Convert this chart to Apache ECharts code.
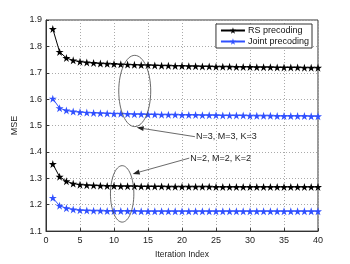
<!DOCTYPE html>
<html><head><meta charset="utf-8">
<script src="https://cdn.jsdelivr.net/npm/echarts@6/dist/echarts.min.js"></script>
<style>html,body{margin:0;padding:0;background:#fff}#c{width:350px;height:264px}</style>
</head><body><div id="c"></div>
<script>
const iterations = Array.from({length:40},(_,i)=>i+1);
const rsN3 = [1.866,1.779,1.756,1.747,1.742,1.739,1.737,1.735,1.734,1.733,1.732,1.731,1.730,1.729,1.729,1.728,1.727,1.727,1.726,1.726,1.725,1.725,1.724,1.724,1.723,1.723,1.723,1.722,1.722,1.722,1.721,1.721,1.721,1.720,1.720,1.720,1.720,1.719,1.719,1.719];
const jointN3 = [1.602,1.566,1.557,1.553,1.551,1.549,1.548,1.547,1.546,1.545,1.545,1.544,1.543,1.543,1.542,1.542,1.541,1.541,1.541,1.540,1.540,1.540,1.539,1.539,1.539,1.538,1.538,1.538,1.538,1.537,1.537,1.537,1.537,1.536,1.536,1.536,1.536,1.536,1.535,1.535];
const rsN2 = [1.354,1.306,1.289,1.280,1.276,1.274,1.273,1.272,1.271,1.271,1.270,1.270,1.270,1.269,1.269,1.269,1.269,1.268,1.268,1.268,1.268,1.268,1.268,1.268,1.267,1.267,1.267,1.267,1.267,1.267,1.267,1.267,1.267,1.267,1.267,1.267,1.267,1.267,1.267,1.267];
const jointN2 = [1.226,1.196,1.187,1.182,1.179,1.178,1.177,1.177,1.176,1.176,1.176,1.176,1.176,1.175,1.175,1.175,1.175,1.175,1.175,1.175,1.175,1.175,1.175,1.175,1.175,1.175,1.175,1.175,1.175,1.175,1.175,1.175,1.175,1.175,1.175,1.175,1.175,1.175,1.175,1.175];
const legendNames = ['RS precoding','Joint precoding'];
const annotN3 = 'N=3, M=3, K=3';
const annotN2 = 'N=2, M=2, K=2';

const STAR = 'path://M50,0 L61.8,36.2 L100,36.2 L69.1,58.6 L80.9,95.1 L50,72.4 L19.1,95.1 L30.9,58.6 L0,36.2 L38.2,36.2 Z';
const FONT = 'Liberation Sans';
const BLUE = '#3050ff';
const chart = echarts.init(document.getElementById('c'), null, {renderer:'canvas'});
function mk(name, data, color){
  return {name, type:'line', data: data.map((v,i)=>[iterations[i],v]), symbol: STAR, symbolSize: 8,
    showAllSymbol:true, itemStyle:{color}, lineStyle:{color, width:1}, animation:false};
}
chart.setOption({
  animation:false,
  grid:{left:46, right:32, top:20, bottom:30, show:true, borderColor:'#333', borderWidth:1},
  legend:{data:legendNames, right:38, top:24, orient:'vertical', itemWidth:24, itemHeight:8, itemGap:2,
    borderColor:'#333', borderWidth:1, borderRadius:0, padding:[2,3,2,4], backgroundColor:'#fff',
    textStyle:{fontFamily:FONT, fontSize:9, color:'#111', padding:[0,0,0,-2]}},
  xAxis:{type:'value', min:0, max:40, interval:5, name:'Iteration Index', nameLocation:'middle', nameGap:17,
    nameTextStyle:{fontFamily:FONT, fontSize:8.5, color:'#222'},
    axisLine:{lineStyle:{color:'#333'}}, axisTick:{inside:true, length:3, lineStyle:{color:'#333'}},
    axisLabel:{fontFamily:FONT, fontSize:9, color:'#222', margin:5},
    splitLine:{show:true, lineStyle:{type:[1,2], color:'#aaa'}}},
  yAxis:{type:'value', min:1.1, max:1.9, interval:0.1, name:'MSE', nameLocation:'middle', nameGap:24, nameRotate:90,
    nameTextStyle:{fontFamily:FONT, fontSize:9, color:'#222'},
    axisLine:{show:true, lineStyle:{color:'#333'}}, axisTick:{show:true, inside:true, length:3, lineStyle:{color:'#333'}},
    axisLabel:{fontFamily:FONT, fontSize:9, color:'#222', margin:4, formatter:v=>v.toFixed(1)},
    splitLine:{show:true, lineStyle:{type:[1,2], color:'#aaa'}}},
  series:[mk(legendNames[0], rsN3, '#000'), mk(legendNames[1], jointN3, BLUE),
          mk(legendNames[0], rsN2, '#000'), mk(legendNames[1], jointN2, BLUE)]
});
function P(x,y){return chart.convertToPixel({gridIndex:0},[x,y]);}
function ellipse(cx,cy,rx,ry){
  const c=P(cx,cy), e=P(cx+rx,cy+ry);
  return {type:'ellipse', z:10, shape:{cx:c[0], cy:c[1], rx:Math.abs(e[0]-c[0]), ry:Math.abs(e[1]-c[1])},
    style:{fill:'none', stroke:'#444', lineWidth:0.8}};
}
function arrow(from,to,text){
  const a=P(from[0],from[1]), b=P(to[0],to[1]);
  const ang=Math.atan2(b[1]-a[1], b[0]-a[0]); const L=7, W=2.5;
  const bx=b[0]-L*Math.cos(ang), by=b[1]-L*Math.sin(ang);
  const px=-Math.sin(ang)*W, py=Math.cos(ang)*W;
  return [
    {type:'line', z:10, shape:{x1:a[0],y1:a[1],x2:bx,y2:by}, style:{stroke:'#444', lineWidth:0.8}},
    {type:'polygon', z:10, shape:{points:[[b[0],b[1]],[bx+px,by+py],[bx-px,by-py]]}, style:{fill:'#222'}},
    {type:'text', z:10, x:a[0]+1, y:a[1], style:{text, font:'9px '+FONT, fill:'#222', textVerticalAlign:'middle'}}
  ];
}
chart.setOption({graphic:[
  ellipse(13.05,1.631,2.35,0.135),
  ellipse(11.2,1.241,1.72,0.107),
  ...arrow([21.9,1.4578],[13.34,1.4925],annotN3),
  ...arrow([21.07,1.3766],[12.75,1.3168],annotN2)
]});
</script></body></html>
